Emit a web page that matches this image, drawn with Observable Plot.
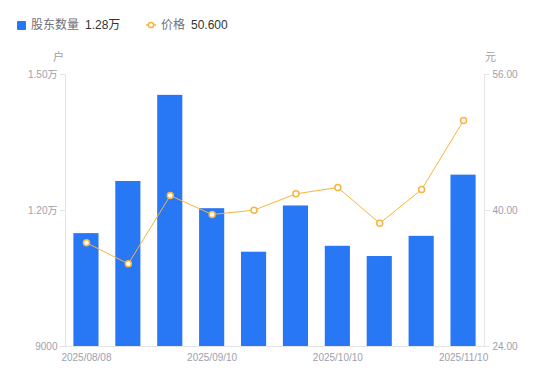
<!DOCTYPE html>
<html><head><meta charset="utf-8">
<script src="https://cdn.jsdelivr.net/npm/d3@7"></script>
<script src="https://cdn.jsdelivr.net/npm/@observablehq/plot@0.6"></script>
<style>
body{margin:0;background:#fff;font-family:"Liberation Sans","Noto Sans CJK SC",sans-serif;}
#wrap{position:relative;width:550px;height:381px;}
#legend{position:absolute;left:0;top:0;width:550px;height:40px;font-size:12px;}
.lg{position:absolute;top:18px;line-height:14px;white-space:nowrap;}
.lab{color:#6e7079;}
.val{color:#333;margin-left:6px;}
#chart{position:absolute;left:0;top:0;}
</style></head><body>
<div id="wrap">
<div id="chart"></div>
<div id="legend">
  <div class="lg" style="left:17px"><span style="display:inline-block;width:9px;height:9px;background:#2878f5;border-radius:1px;vertical-align:-1px;margin-right:5px"></span><span class="lab">股东数量</span><span class="val">1.28万</span></div>
  <div class="lg" style="left:146px"><svg width="10" height="10" style="vertical-align:-1px;margin-right:5px"><line x1="0" y1="5" x2="10" y2="5" stroke="#f9b33e" stroke-width="1.5"/><circle cx="5" cy="5" r="2.6" fill="#fff" stroke="#f9b33e" stroke-width="1.5"/></svg><span class="lab">价格</span><span class="val">50.600</span></div>
</div>
</div>
<script>
const dates = ["2025/08/08","2025/08/20","2025/08/29","2025/09/10","2025/09/19","2025/09/30","2025/10/10","2025/10/20","2025/10/31","2025/11/10"];
const holders = [11490, 12640, 14540, 12040, 11080, 12100, 11210, 10985, 11430, 12780];
const prices = [36.2, 33.73, 41.76, 39.53, 40.04, 41.96, 42.7, 38.5, 42.47, 50.6];
const xLabels = ["2025/08/08","2025/09/10","2025/10/10","2025/11/10"];
const leftTicks = [9000, 12000, 15000];
const rightTicks = [24, 40, 56];

const yMin = 9000, yMax = 15000, pMin = 24, pMax = 56;
const toY = p => yMin + (p - pMin) * (yMax - yMin) / (pMax - pMin);
const toP = y => pMin + (y - yMin) * (pMax - pMin) / (yMax - yMin);
const data = dates.map((d, i) => ({date: d, holders: holders[i], price: prices[i], py: toY(prices[i])}));

const fmtLeft = v => v >= 10000 ? (v / 10000).toFixed(2) + "万" : String(v);
const gray = "#9ea0ab";
const lineC = "#e3e4e8";
const orange = "#f9b33e";

const chart = Plot.plot({
  width: 550, height: 381,
  marginLeft: 65, marginRight: 66, marginTop: 74, marginBottom: 35,
  style: {fontFamily: '"Liberation Sans","Noto Sans CJK SC",sans-serif', fontSize: "10px", background: "transparent"},
  x: {type: "band", domain: dates, paddingInner: 0.4, paddingOuter: 0.2, round: false, axis: null},
  y: {domain: [yMin, yMax], axis: null},
  marks: [
    Plot.frame({anchor: "left", stroke: lineC}),
    Plot.frame({anchor: "right", stroke: lineC}),
    Plot.frame({anchor: "bottom", stroke: lineC}),
    Plot.barY(data, {x: "date", y1: yMin, y2: "holders", fill: "#2878f5"}),
    Plot.axisY({anchor: "left", ticks: leftTicks, tickFormat: fmtLeft, tickSize: 5, tickPadding: 3, stroke: lineC, color: gray, fontSize: 10, label: null}),
    Plot.axisY({anchor: "right", ticks: rightTicks.map(toY), tickFormat: v => toP(v).toFixed(2), tickSize: 5, tickPadding: 3, stroke: lineC, color: gray, fontSize: 10, label: null}),
    Plot.axisX({ticks: xLabels, tickSize: 0, tickPadding: 7, color: gray, fontSize: 10, label: null}),
    Plot.line(data, {x: "date", y: "py", stroke: orange, strokeWidth: 1}),
    Plot.dot(data, {x: "date", y: "py", r: 3, fill: "#fff", stroke: orange, strokeWidth: 1.5}),
    Plot.text(["户"], {frameAnchor: "top-left", textAnchor: "middle", lineAnchor: "middle", dx: -7, dy: -17, fill: gray, fontSize: 11}),
    Plot.text(["元"], {frameAnchor: "top-right", textAnchor: "middle", lineAnchor: "middle", dx: 6, dy: -17, fill: gray, fontSize: 11})
  ]
});
document.getElementById("chart").appendChild(chart);
</script>
</body></html>
